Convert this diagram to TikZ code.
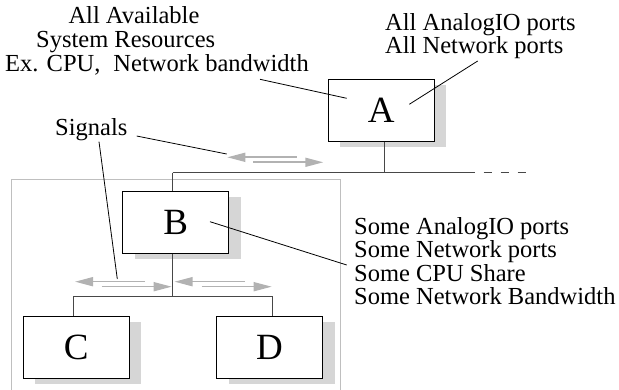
\documentclass[tikz,border=0pt]{standalone}
\usepackage{fontspec}
\setmainfont{Liberation Serif}
\usetikzlibrary{arrows.meta,shadows}
\begin{document}
\begin{tikzpicture}[x=1pt,y=-1pt,
  box/.style={draw=black, line width=0.9pt, fill=white, minimum width=106pt, minimum height=62pt, inner sep=0pt,
    font=\fontsize{37}{37}\selectfont,
    drop shadow={shadow xshift=12pt, shadow yshift=-6pt, fill=black!16, opacity=1}},
  txt/.style={inner sep=0pt, anchor=base west, align=left, font=\fontsize{24.5}{23.6}\selectfont},
  net/.style={draw=black!72, line width=1.3pt},
  lead/.style={draw=black, line width=0.8pt},
  sig/.style={draw=black!30, line width=1.6pt, -{Triangle[length=18pt,width=9pt,fill=black!30]}},
  frame/.style={draw=black!25, line width=1.1pt}]
\useasboundingbox (0,0) rectangle (619,390);

% outer frame
\draw[frame] (11.7,392) -- (11.7,179.3) -- (340.7,179.3) -- (340.7,392);

% boxes
\node[box] (A) at (381.3,110.5) {A};
\node[box] (B) at (175.7,222.5) {B};
\node[box] (C) at (76.3,347) {C};
\node[box] (D) at (269.5,347) {D};

% network
\coordinate (jA) at (384.3,172.7);
\coordinate (jL) at (172.7,172.7);
\coordinate (jS) at (466.7,172.7);
\coordinate (jE) at (528,172.7);
\coordinate (jB) at (172.7,296.7);
\coordinate (jC) at (73.3,296.7);
\coordinate (jD) at (272.7,296.7);
\draw[net] (A.south -| jA) -- (jA);
\draw[net] (jL) -- (jS);
\draw[net, dash pattern=on 8pt off 9pt] (jS) -- (jE);
\draw[net] (jL) -- (B.north -| jL);
\draw[net] (B.south -| jB) -- (jB);
\draw[net] (jC) -- (jD);
\draw[net] (jC) -- (C.north -| jC);
\draw[net] (jD) -- (D.north -| jD);

% signal arrows
\coordinate (s1a) at (296.7,157.3); \coordinate (s1b) at (227.3,157.3);
\coordinate (s2a) at (253.3,162.3); \coordinate (s2b) at (323.3,162.3);
\coordinate (s3a) at (145,281.7);   \coordinate (s3b) at (75,281.7);
\coordinate (s4a) at (101.7,286.7); \coordinate (s4b) at (171.7,286.7);
\coordinate (s5a) at (245,281.7);   \coordinate (s5b) at (174.5,281.7);
\coordinate (s6a) at (201.7,286.7); \coordinate (s6b) at (271.7,286.7);
\draw[sig] (s1a) -- (s1b);
\draw[sig] (s2a) -- (s2b);
\draw[sig] (s3a) -- (s3b);
\draw[sig] (s4a) -- (s4b);
\draw[sig] (s5a) -- (s5b);
\draw[sig] (s6a) -- (s6b);

% texts
\node[txt] (t1) at (68.3,24) {All Available};
\node[txt] (t2) at (36,48) {System Resources};
\node[txt] (t3) at (5,72) {Ex. CPU,\hspace{13pt}Network bandwidth};
\node[txt] (tA) at (385,54) {All AnalogIO ports\\All Network ports};
\node[txt] (tB) at (354,305) {Some AnalogIO ports\\Some Network ports\\Some CPU Share\\Some Network Bandwidth};
\node[txt] (sg) at (55,136) {Signals};

% leader lines
\coordinate (l1a) at (260,79.3);  \coordinate (l1b) at (346.7,98.3);
\coordinate (l2a) at (477.7,61);  \coordinate (l2b) at (409.3,104.3);
\coordinate (l3a) at (136.7,136); \coordinate (l3b) at (226.7,154);
\coordinate (l4a) at (99,141.7);  \coordinate (l4b) at (117.3,279);
\coordinate (l5a) at (210,221.7); \coordinate (l5b) at (346.7,265);
\draw[lead] (l1a) -- (l1b);
\draw[lead] (l2a) -- (l2b);
\draw[lead] (l3a) -- (l3b);
\draw[lead] (l4a) -- (l4b);
\draw[lead] (l5a) -- (l5b);
\end{tikzpicture}
\end{document}
